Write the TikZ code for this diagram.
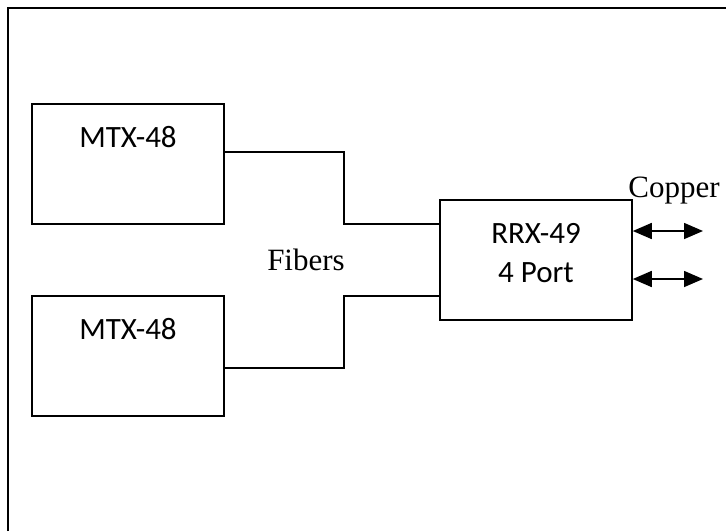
\documentclass[tikz,border=0pt]{standalone}
\usepackage{fontspec}
\setmainfont{Liberation Serif}
\newfontfamily\boxfont{Carlito}
\usetikzlibrary{positioning,arrows.meta}

\tikzset{
  unit/.style={draw,line width=1.6pt,minimum width=192pt,minimum height=120pt,inner sep=0pt},
  unitlabel/.style={anchor=base,font=\boxfont\fontsize{31}{39}\selectfont,inner sep=0pt},
  plain/.style={anchor=base,font=\fontsize{31}{37}\selectfont,inner sep=0pt},
  wire/.style={line width=1.6pt},
  link/.style={line width=1.6pt,{Triangle[length=19pt,width=16pt]}-{Triangle[length=19pt,width=16pt]}}
}

\begin{document}
\begin{tikzpicture}[x=1pt,y=-1pt]
\useasboundingbox (0,0) rectangle (726,531);
% frame
\draw[line width=1.6pt] (8,531) -- (8,8) -- (726,8);

% units
\node[unit] (mtxA) at (128,164) {};
\node[unit] (mtxB) at (128,356) {};
\node[unit] (rrx) at (536,260) {};
\node[unitlabel] (mtxAname) at (128,147) {MTX-48};
\node[unitlabel] (mtxBname) at (128,339) {MTX-48};
\node[unitlabel] (rrxname) at (536,243) {RRX-49};
\node[unitlabel] (rrxports) at (536,282) {4 Port};

% fibers
\draw[wire] (mtxA.east |- 0,152) -- (344,152) |- (rrx.west |- 0,224);
\draw[wire] (mtxB.east |- 0,368) -- (344,368) |- (rrx.west |- 0,296);
\node[plain] (fibers) at (306,270) {Fibers};

% copper
\coordinate (cuA) at (703,231);
\coordinate (cuB) at (703,279);
\draw[link] (rrx.east |- cuA) -- (cuA);
\draw[link] (rrx.east |- cuB) -- (cuB);
\node[plain] (copper) at (674,197) {Copper};
\end{tikzpicture}
\end{document}
